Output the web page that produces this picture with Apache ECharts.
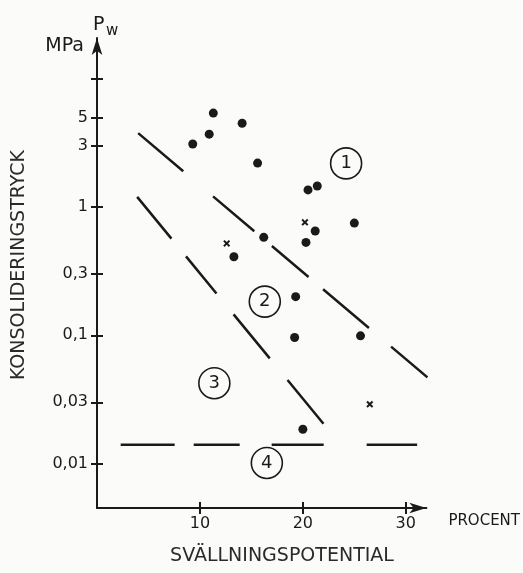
<!DOCTYPE html>
<html>
<head>
<meta charset="utf-8">
<script src="https://cdn.jsdelivr.net/npm/echarts@6/dist/echarts.min.js"></script>
<style>
  html, body { margin: 0; padding: 0; background: #fbfbf9; }
  #chart { width: 523px; height: 573px; }
</style>
</head>
<body>
<div id="chart"></div>
<script>
// svällningspotential (procent) mot konsolideringstryck Pw (MPa)
const dotX = [11.3, 14.1, 10.9, 9.3, 15.6, 20.5, 21.4, 21.2, 25.0, 20.3, 16.2, 13.3, 19.3, 19.2, 25.6, 20.0];
const dotY = [5.4, 4.5, 3.7, 3.1, 2.2, 1.36, 1.46, 0.65, 0.75, 0.53, 0.58, 0.41, 0.20, 0.096, 0.099, 0.0185];

const crossX = [20.2, 12.6, 26.5];
const crossY = [0.76, 0.52, 0.029];

// gränslinjer mellan områdena
const lineAX = [4.0, 32.1];
const lineAY = [3.77, 0.047];
const lineBX = [3.9, 22.0];
const lineBY = [1.2, 0.0204];
const lineCX = [2.3, 31.1];
const lineCY = [0.014, 0.014];

// områdesnummer
const regionNames = ['1', '2', '3', '4'];
const regionX = [24.2, 16.3, 11.4, 16.5];
const regionY = [2.19, 0.183, 0.0423, 0.0101];

// axlar
const xTicks = [10, 20, 30];
const yTicks = [0.01, 0.03, 0.1, 0.3, 1, 3, 5, 10];
const yLabels = [0.01, 0.03, 0.1, 0.3, 1, 3, 5];
const yMin = 0.0045;
const yMax = 20.8;

const lg = Math.log10;
const ink = '#1a1a1a';
const font = 'DejaVu Sans';

const pairs = (xs, ys) => xs.map((x, i) => [x, lg(ys[i])]);

const fmtY = (v) => String(parseFloat(Math.pow(10, v).toPrecision(2))).replace('.', ',');

const dashLine = (xs, ys, dash) => ({
  type: 'line',
  data: pairs(xs, ys),
  symbol: 'none',
  silent: true,
  lineStyle: { color: ink, width: 2.5, type: dash, cap: 'butt', opacity: 1 },
  z: 3
});

const chart = echarts.init(document.getElementById('chart'), null, { renderer: 'canvas' });

chart.setOption({
  backgroundColor: '#fbfbf9',
  animation: false,
  grid: { left: 97, right: 96, top: 38, bottom: 65 },
  xAxis: [
    {
      type: 'value',
      min: 0,
      max: 32,
      name: 'PROCENT',
      nameLocation: 'end',
      nameGap: 22,
      nameTextStyle: {
        fontFamily: font, fontSize: 15, color: ink,
        verticalAlign: 'top', padding: [6, 0, 0, 0]
      },
      axisLine: {
        show: true,
        onZero: false,
        symbol: ['none', 'arrow'],
        symbolSize: [8, 17],
        lineStyle: { color: ink, width: 2 }
      },
      axisTick: {
        show: true, length: 6, customValues: xTicks,
        lineStyle: { color: ink, width: 2 }
      },
      axisLabel: {
        customValues: xTicks, margin: 8,
        fontFamily: font, fontSize: 16, color: ink
      },
      splitLine: { show: false }
    },
    {
      type: 'value',
      min: 0,
      max: 32,
      position: 'bottom',
      axisLine: { show: false, onZero: false },
      axisTick: {
        show: true, inside: true, length: 6, customValues: xTicks,
        lineStyle: { color: ink, width: 2 }
      },
      axisLabel: { show: false },
      splitLine: { show: false }
    }
  ],
  yAxis: [
    {
      type: 'value',
      min: lg(yMin),
      max: lg(yMax),
      axisLine: {
        show: true,
        onZero: false,
        symbol: ['none', 'arrow'],
        symbolSize: [8, 17],
        lineStyle: { color: ink, width: 2 }
      },
      axisTick: {
        show: true, length: 6, customValues: yTicks.map(lg),
        lineStyle: { color: ink, width: 2 }
      },
      axisLabel: {
        customValues: yLabels.map(lg), margin: 9,
        fontFamily: font, fontSize: 16, color: ink,
        formatter: fmtY
      },
      splitLine: { show: false }
    },
    {
      type: 'value',
      min: lg(yMin),
      max: lg(yMax),
      position: 'left',
      axisLine: { show: false, onZero: false },
      axisTick: {
        show: true, inside: true, length: 6, customValues: yTicks.map(lg),
        lineStyle: { color: ink, width: 2 }
      },
      axisLabel: { show: false },
      splitLine: { show: false }
    }
  ],
  series: [
    dashLine(lineAX, lineAY, [59, 39, 54, 23, 48, 19, 60, 29, 48, 200]),
    dashLine(lineBX, lineBY, [54, 23, 48, 27, 57, 28, 58, 200]),
    dashLine(lineCX, lineCY, [54, 19, 46, 32, 52, 43, 52, 200]),
    {
      type: 'scatter',
      data: pairs(dotX, dotY),
      symbol: 'circle',
      symbolSize: 9,
      itemStyle: { color: ink, opacity: 1 },
      z: 4
    },
    {
      type: 'scatter',
      data: pairs(crossX, crossY),
      symbol: 'path://M0,2L2,0L5,3L8,0L10,2L7,5L10,8L8,10L5,7L2,10L0,8L3,5Z',
      symbolSize: 7,
      itemStyle: { color: ink, opacity: 1 },
      z: 4
    },
    {
      type: 'scatter',
      data: regionX.map((x, i) => ({ value: [x, lg(regionY[i])], name: regionNames[i] })),
      symbol: 'circle',
      symbolSize: 31,
      itemStyle: { color: 'rgba(0,0,0,0)', borderColor: ink, borderWidth: 1.6, opacity: 1 },
      label: {
        show: true, position: 'inside', formatter: '{b}',
        fontFamily: font, fontSize: 18, color: ink
      },
      z: 4
    }
  ],
  graphic: [
    {
      type: 'text',
      style: { text: 'P', x: 93, y: 25, fontFamily: font, fontSize: 19, fill: ink, textVerticalAlign: 'middle' }
    },
    {
      type: 'text',
      style: { text: 'w', x: 106, y: 31, fontFamily: font, fontSize: 15, fill: ink, textVerticalAlign: 'middle' }
    },
    {
      type: 'text',
      style: { text: 'MPa', x: 84, y: 46, fontFamily: font, fontSize: 19, fill: ink, textAlign: 'right', textVerticalAlign: 'middle' }
    },
    {
      type: 'text',
      x: 19,
      y: 265,
      rotation: Math.PI / 2,
      style: { text: 'KONSOLIDERINGSTRYCK', fontFamily: font, fontSize: 19, fill: '#2a2a2a', textAlign: 'center', textVerticalAlign: 'middle' }
    },
    {
      type: 'text',
      x: 282,
      y: 556,
      style: { text: 'SVÄLLNINGSPOTENTIAL', fontFamily: font, fontSize: 19, fill: '#2a2a2a', textAlign: 'center', textVerticalAlign: 'middle' }
    }
  ]
});
</script>
</body>
</html>
